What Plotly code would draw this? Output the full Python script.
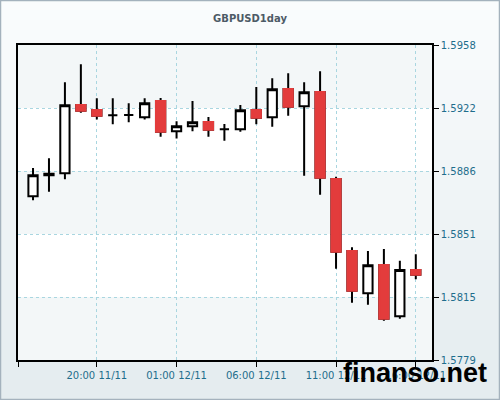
import plotly.graph_objects as go
import pandas as pd

# ---- data ----
times = pd.date_range("2012-11-11 16:00", periods=25, freq="h")
open_ = [1.58720, 1.58840, 1.58851, 1.59239, 1.59211, 1.59181, 1.59182, 1.59169, 1.59262, 1.59090,
         1.59118, 1.59142, 1.59101, 1.59101, 1.59211, 1.59169, 1.59330, 1.59232, 1.59313, 1.58819,
         1.58409, 1.58169, 1.58330, 1.58038, 1.58301]
high = [1.58881, 1.58936, 1.59368, 1.59470, 1.59277, 1.59277, 1.59249, 1.59277, 1.59279, 1.59146,
        1.59262, 1.59171, 1.59131, 1.59239, 1.59341, 1.59391, 1.59419, 1.59368, 1.59431, 1.58832,
        1.58430, 1.58409, 1.58421, 1.58354, 1.58391]
low = [1.58698, 1.58746, 1.58817, 1.59195, 1.59156, 1.59129, 1.59141, 1.59156, 1.59059, 1.59048,
       1.59090, 1.59059, 1.59036, 1.59087, 1.59129, 1.59116, 1.59178, 1.58837, 1.58729, 1.58309,
       1.58116, 1.58104, 1.58013, 1.58025, 1.58249]
close = [1.58840, 1.58849, 1.59237, 1.59207, 1.59178, 1.59181, 1.59182, 1.59249, 1.59087, 1.59118,
         1.59141, 1.59099, 1.59101, 1.59209, 1.59167, 1.59328, 1.59229, 1.59311, 1.58826, 1.58405,
         1.58184, 1.58328, 1.58025, 1.58301, 1.58275]

y_min, y_max = 1.5779, 1.5958
y_tick_labels = ["1.5779", "1.5815", "1.5851", "1.5886", "1.5922", "1.5958"]
x_tick_times = ["2012-11-11 20:00", "2012-11-12 01:00", "2012-11-12 06:00",
                "2012-11-12 11:00", "2012-11-12 16:00"]
x_tick_labels = ["20:00 11/11", "01:00 12/11", "06:00 12/11", "11:00 12/11", "16:00 12/11"]
x_range = ["2012-11-11 15:03:30", "2012-11-12 17:01:00"]
title = "GBPUSD1day"
watermark = "finanso.net"

RED = "#e33c3c"
GRID = "#a9d6e0"
TICKC = "#1e6d8c"

step = (y_max - y_min) / (len(y_tick_labels) - 1)
y_tickvals = [y_min + i * step for i in range(len(y_tick_labels))]

fig = go.Figure()
fig.add_trace(go.Candlestick(
    x=times, open=open_, high=high, low=low, close=close,
    increasing=dict(line=dict(color="black", width=2), fillcolor="white"),
    decreasing=dict(line=dict(color="black", width=2), fillcolor=RED),
    whiskerwidth=0, hoverinfo="skip", showlegend=False))

# red bodies without black outline
dx, do, dc = [], [], []
for t, o, c in zip(times, open_, close):
    if o > c:
        dx.append(t); do.append(o); dc.append(c)
fig.add_trace(go.Candlestick(
    x=dx, open=do, high=do, low=dc, close=dc,
    increasing=dict(line=dict(color=RED, width=2), fillcolor=RED),
    decreasing=dict(line=dict(color=RED, width=2), fillcolor=RED),
    whiskerwidth=0, hoverinfo="skip", showlegend=False))

shapes = []
W, H = 500, 400
L, R, T, B = 18, 68, 45, 40
pw, ph = W - L - R, H - T - B
def px2x(p): return (p - L) / pw
def py2y(p): return (H - B - p) / ph
n = 40
c0 = (250, 252, 253)
c1 = (228, 236, 239)
for i in range(n):
    f = i / (n - 1)
    col = "rgb(%d,%d,%d)" % tuple(round(c0[k] + (c1[k] - c0[k]) * f) for k in range(3))
    shapes.append(dict(type="rect", xref="paper", yref="paper", layer="below",
                       x0=px2x(0), x1=px2x(W), y0=py2y(i * H / n), y1=py2y((i + 1) * H / n + 1),
                       fillcolor=col, line=dict(width=0)))
for i in range(len(y_tickvals) - 1):
    col = "#f3f7f8" if i % 2 == 0 else "#ffffff"
    shapes.append(dict(type="rect", xref="paper", yref="y", layer="below",
                       x0=0, x1=1, y0=y_tickvals[i], y1=y_tickvals[i + 1],
                       fillcolor=col, line=dict(width=0)))
shapes.append(dict(type="rect", xref="paper", yref="paper", layer="above",
                   x0=px2x(0.5), x1=px2x(W - 0.5), y0=py2y(H - 0.5), y1=py2y(0.5),
                   line=dict(color="#a4b2bd", width=1.5)))

fig.update_layout(
    width=W, height=H,
    margin=dict(l=L, r=R, t=T, b=B),
    paper_bgcolor="#eef3f5", plot_bgcolor="white",
    boxgap=0.17,
    shapes=shapes,
    title=dict(text="<b>" + title + "</b>", x=0.5, xref="container", y=0.953, yanchor="middle",
               font=dict(family="DejaVu Sans", size=10, color="#4d5a66")),
    xaxis=dict(type="date", range=x_range, rangeslider=dict(visible=False),
               tickvals=[x_range[0]] + x_tick_times, ticktext=[""] + x_tick_labels,
               ticks="outside", ticklen=5, tickcolor="black", tickwidth=1,
               showline=True, linecolor="black", linewidth=1.5, mirror=True,
               showgrid=True, gridcolor=GRID, griddash="3px,3px", gridwidth=1,
               zeroline=False,
               tickfont=dict(family="DejaVu Sans", size=10, color=TICKC)),
    yaxis=dict(side="right", range=[y_min, y_max],
               tickvals=y_tickvals, ticktext=y_tick_labels,
               ticks="outside", ticklen=5, tickcolor="black", tickwidth=1,
               showline=True, linecolor="black", linewidth=1.5, mirror=True,
               showgrid=True, gridcolor=GRID, griddash="3px,3px", gridwidth=1,
               zeroline=False,
               tickfont=dict(family="DejaVu Sans", size=10, color=TICKC)),
    annotations=[dict(text="<b>" + watermark + "</b>", xref="paper", yref="paper",
                      x=px2x(415), y=py2y(373), xanchor="center", yanchor="middle",
                      showarrow=False,
                      font=dict(family="Liberation Sans", size=27, color="black"))],
)

fig.write_html("out.html", config={"displayModeBar": False},
               post_script="document.body.style.margin='0px';document.body.style.overflow='hidden';")
